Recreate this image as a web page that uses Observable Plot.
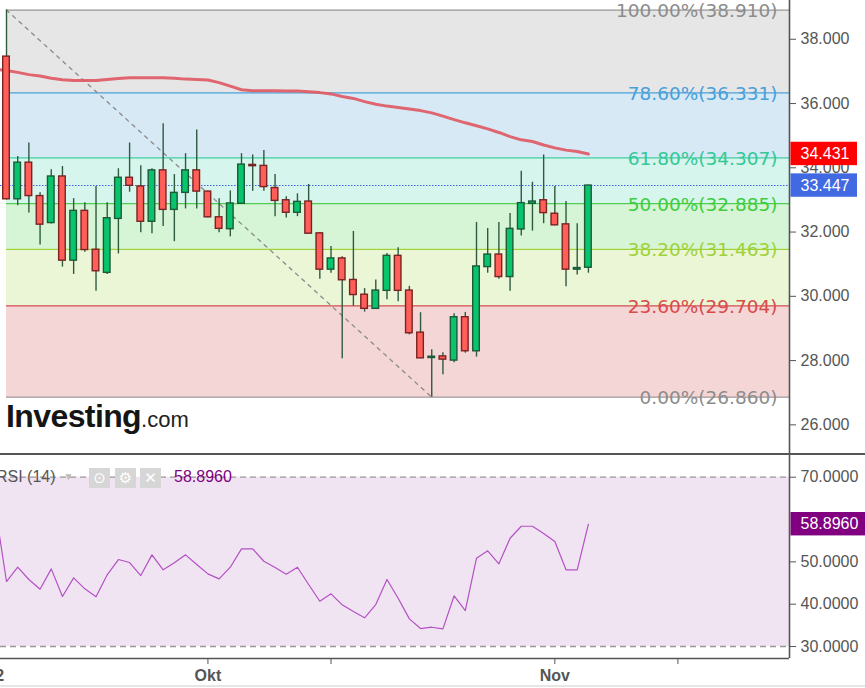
<!DOCTYPE html>
<html>
<head>
<meta charset="utf-8">
<script src="https://cdn.jsdelivr.net/npm/d3@7"></script>
<script src="https://cdn.jsdelivr.net/npm/@observablehq/plot@0.6"></script>
<style>
  body { margin: 0; background: #fff; }
  #wrap { position: relative; width: 865px; height: 688px; overflow: hidden; font-family: "Liberation Sans", Arial, sans-serif; }
  #sep { height: 2px; background: #555; }
  #logo { position: absolute; left: 6px; top: 396px; line-height: 40px; color: #151515; white-space: nowrap; }
  #logo .a { font-weight: bold; font-size: 32px; letter-spacing: -0.6px; }
  #logo .b { font-size: 22px; color: #222; }
  #rsihead { position: absolute; left: -4px; top: 467px; line-height: 20px; font-size: 16px; color: #555; white-space: nowrap; }
  #rsihead .tri { display: inline-block; font-size: 10px; color: #bbb; margin-left: 8px; vertical-align: top; }
  #rsihead .ic { position: absolute; top: 1px; width: 21px; height: 20px; background: #d6d6d6; color: #fff; font-size: 15px; line-height: 20px; text-align: center; font-family: "DejaVu Sans", sans-serif; }
  #rsihead .val { position: absolute; left: 178px; top: 0; color: #800080; }
  #bottomline { position: absolute; left: 0; top: 685px; width: 865px; height: 2px; background: #e6e6e6; }
  svg.plot, svg { overflow: hidden; }
</style>
</head>
<body>
<div id="wrap">
  <div id="main"></div>
  <div id="sep"></div>
  <div id="rsi"></div>
  <div id="logo"><span class="a">Investing</span><span class="b">.com</span></div>
  <div id="rsihead">RSI (14)<span class="tri">▼</span>
    <span class="ic" style="left:93px">⊙</span>
    <span class="ic" style="left:119px">⚙</span>
    <span class="ic" style="left:144px">✕</span>
    <span class="val" id="rsival"></span>
  </div>
  <div id="bottomline"></div>
</div>
<script>
// ---- Data ----
// daily dates: first one (Sep 12) is just left of the visible area
const days = d3.utcDay.range(new Date(Date.UTC(2019, 8, 12)), new Date(Date.UTC(2019, 10, 5)));

const open = [37.46, 33.02, 34.16, 33.12, 32.28, 33.73, 31.11, 32.66, 31.45, 30.73,
  32.41, 33.69, 33.42, 32.32, 33.92, 32.69, 33.22, 33.92, 33.26, 32.46,
  32.09, 32.88, 34.09, 34.06, 33.37, 32.99, 32.60, 32.95, 31.96, 30.83,
  31.18, 30.51, 30.05, 29.61, 30.17, 31.26, 30.18, 28.87, 28.08, 28.13,
  28.00, 29.35, 28.29, 30.91, 31.30, 30.60, 32.08, 32.88, 32.99, 32.57,
  32.24, 30.83, 30.89];
const close = [33.02, 34.16, 33.12, 32.23, 33.73, 31.11, 32.66, 31.44, 30.78, 32.43,
  33.69, 33.44, 32.32, 33.92, 32.69, 33.22, 33.92, 33.26, 32.46, 32.10,
  32.89, 34.10, 34.05, 33.40, 32.97, 32.60, 32.94, 31.95, 30.83, 31.18,
  30.50, 30.04, 29.61, 30.18, 31.26, 30.17, 28.85, 28.07, 28.12, 28.03,
  29.35, 28.29, 30.93, 31.30, 30.60, 32.10, 32.90, 32.95, 32.59, 32.21,
  30.83, 30.88, 33.447];
const high = [38.91, 34.35, 34.77, 33.22, 33.94, 34.04, 33.04, 32.91, 33.42, 32.91,
  33.97, 34.77, 34.06, 33.97, 35.37, 33.79, 34.44, 35.18, 33.27, 33.04,
  33.28, 34.44, 34.40, 34.54, 33.79, 33.10, 33.19, 33.48, 31.98, 31.55,
  31.23, 32.02, 30.24, 30.51, 31.33, 31.51, 30.31, 29.49, 28.34, 28.24,
  29.46, 29.50, 32.30, 32.11, 32.30, 32.58, 33.89, 33.55, 34.40, 33.42,
  32.95, 32.26, 33.46];
const low = [33.00, 32.82, 32.59, 31.60, 32.25, 30.91, 30.68, 31.37, 30.16, 30.68,
  31.32, 33.24, 31.98, 31.95, 32.17, 31.70, 32.72, 32.72, 32.44, 31.98,
  31.85, 32.86, 33.27, 33.27, 32.48, 32.44, 32.48, 31.93, 30.53, 30.72,
  28.06, 29.69, 29.51, 29.60, 29.89, 29.83, 28.80, 28.06, 26.86, 27.56,
  27.93, 28.23, 28.11, 30.72, 30.53, 30.16, 31.88, 32.03, 32.26, 32.20,
  30.30, 30.66, 30.72];
// moving average (starts on Sep 12)
const ma = [37.07, 37.03, 36.97, 36.90, 36.86, 36.79, 36.74, 36.72, 36.72, 36.72,
  36.75, 36.78, 36.80, 36.80, 36.80, 36.80, 36.79, 36.76, 36.75, 36.73,
  36.65, 36.54, 36.43, 36.40, 36.40, 36.40, 36.39, 36.39, 36.37, 36.34,
  36.30, 36.22, 36.16, 36.06, 35.98, 35.92, 35.88, 35.83, 35.78, 35.71,
  35.61, 35.50, 35.40, 35.31, 35.21, 35.10, 34.97, 34.87, 34.82, 34.71,
  34.62, 34.55, 34.51, 34.431];
// RSI (14) (starts on Sep 12)
const rsi = [62.6, 45.36, 48.74, 45.83, 43.54, 48.35, 41.81, 46.23, 43.63, 41.74,
  46.94, 50.55, 49.84, 46.77, 51.66, 48.12, 49.77, 51.66, 49.37, 47.17,
  45.99, 48.74, 53.08, 53.08, 50.15, 48.66, 47.08, 48.74, 44.65, 40.70,
  42.45, 39.85, 38.27, 36.78, 39.92, 45.83, 41.41, 36.54, 34.25, 34.56,
  34.18, 41.98, 38.50, 50.86, 52.61, 49.54, 55.58, 58.42, 58.42, 56.70,
  54.81, 48.12, 48.12, 58.896];

// Fibonacci retracement
const fibPct = [100, 78.6, 61.8, 50, 38.2, 23.6, 0];
const fibVal = [38.910, 36.331, 34.307, 32.885, 31.463, 29.704, 26.860];
const fibLine = ["#9a9a9a", "#4a9fd8", "#3fcca0", "#50cc50", "#9fd23a", "#d05050", "#a08f8f"];
const fibText = ["#8c8c8c", "#4a9fd8", "#33c898", "#3fcc3f", "#9fd23a", "#d94a4a", "#8c8c8c"];
const fibFill = ["#e6e6e6", "#d6e9f5", "#d6f5ec", "#d6f5d6", "#ebf6d6", "#f5d6d6"];

const priceTicks = [26, 28, 30, 32, 34, 36, 38];
const rsiTicks = [30, 40, 50, 70];
const rsiBand = [30, 70];
const xTickDates = [new Date(Date.UTC(2019, 8, 12)), new Date(Date.UTC(2019, 9, 1)), new Date(Date.UTC(2019, 9, 12)), new Date(Date.UTC(2019, 10, 1)), new Date(Date.UTC(2019, 10, 12))];
const xTickLabels = ["12", "Okt", "", "Nov", ""];

// ---- Derived tables ----
const DAY = 864e5;
const candles = open.map((o, i) => ({date: days[i + 1], open: o, close: close[i], high: high[i], low: low[i]}));
const fib = fibPct.map((p, i) => ({pct: p, val: fibVal[i], line: fibLine[i], text: fibText[i]}));
const bands = fibFill.map((f, i) => ({hi: fibVal[i], lo: fibVal[i + 1], fill: f}));
const maData = days.map((d, i) => ({date: d, v: ma[i]}));
const rsiData = days.map((d, i) => ({date: d, v: rsi[i]}));
const hiIdx = d3.maxIndex(high), loIdx = d3.minIndex(low);
const diag = [{date: candles[hiIdx].date, v: high[hiIdx]}, {date: candles[loIdx].date, v: low[loIdx]}];
const lastClose = close[close.length - 1];
const lastMa = ma[ma.length - 1];
const lastRsi = rsi[rsi.length - 1];
const tickLab = new Map(xTickDates.map((d, i) => [+d, xTickLabels[i]]));

const first = +candles[0].date;
const xDomain = [new Date(first - 0.536 * DAY), new Date(first + 69.97 * DAY)];
const xEnd = () => xDomain[1];
const mainY = [25.108, 39.207];
const rsiY = [27.17, 75.13];
const font = "Liberation Sans, Arial, sans-serif";
const isUp = d => d.close >= d.open;

const mainChart = Plot.plot({
  width: 865, height: 453,
  marginLeft: 0, marginRight: 76, marginTop: 0, marginBottom: 0,
  style: {fontFamily: font, overflow: "hidden", background: "white"},
  x: {type: "utc", domain: xDomain, axis: null},
  y: {domain: mainY, axis: null},
  color: {type: "identity"},
  marks: [
    Plot.rect(bands, {x1: () => candles[0].date, x2: xEnd, y1: "lo", y2: "hi", fill: "fill"}),
    Plot.ruleY(fib, {y: "val", x1: () => candles[0].date, x2: xEnd, stroke: "line", strokeWidth: 1.2}),
    Plot.line(diag, {x: "date", y: "v", stroke: "#8a8a8a", strokeWidth: 1.3, strokeDasharray: "3.5,5"}),
    Plot.ruleY([lastClose], {stroke: "#3d63e8", strokeWidth: 1.1, strokeDasharray: "1.5,1.5"}),
    Plot.line(maData, {x: "date", y: "v", stroke: "#e05a64", strokeWidth: 3, strokeOpacity: 0.92}),
    Plot.ruleX(candles, {x: "date", y1: "low", y2: "high", stroke: "#2e5a40", strokeWidth: 1.4}),
    Plot.rect(candles, {x1: "date", x2: "date", y1: "open", y2: "close",
      insetLeft: -3.3, insetRight: -3.3,
      fill: d => isUp(d) ? "#08c46c" : "#ff5f58",
      stroke: d => isUp(d) ? "#1d5a38" : "#7a2323", strokeWidth: 1.4}),
    Plot.text(fib, {x: xEnd, y: "val", text: d => `${d.pct.toFixed(2)}%(${d.val.toFixed(3)})`,
      textAnchor: "end", lineAnchor: "middle", dx: -12, dy: 1, fill: "text",
      fontSize: 18.5, fontFamily: "DejaVu Sans, sans-serif"}),
    Plot.ruleX([xDomain[1]], {stroke: "#555", strokeWidth: 1.6}),
    Plot.axisY(priceTicks, {anchor: "right", tickFormat: d3.format(".3f"), tickSize: 6, tickPadding: 5,
      fontSize: 16, color: "#555", label: null}),
    Plot.rect([{v: lastMa, fill: "#ff0000"}, {v: lastClose, fill: "#4169e1"}],
      {x1: xEnd, x2: xEnd, y1: "v", y2: "v", insetLeft: 1.5, insetRight: -68, insetTop: -11.7, insetBottom: -11.7, fill: "fill"}),
    Plot.text([lastMa, lastClose], {x: xEnd, y: d => d, text: d => d.toFixed(3), dx: 11, textAnchor: "start",
      fill: "white", fontSize: 16})
  ]
});
document.getElementById("main").appendChild(mainChart);

const rsiChart = Plot.plot({
  width: 865, height: 233,
  marginLeft: 0, marginRight: 76, marginTop: 0, marginBottom: 30,
  style: {fontFamily: font, overflow: "hidden", background: "white"},
  x: {type: "utc", domain: xDomain, axis: null},
  y: {domain: rsiY, axis: null},
  marks: [
    Plot.rect([rsiBand], {y1: d => d[0], y2: d => d[1], fill: "#f1e4f2"}),
    Plot.ruleY(rsiBand, {stroke: "#999", strokeWidth: 1.3, strokeDasharray: "6,4"}),
    Plot.line(rsiData, {x: "date", y: "v", stroke: "#b351c4", strokeWidth: 1.2}),
    Plot.ruleX([xDomain[1]], {stroke: "#555", strokeWidth: 1.6}),
    Plot.ruleY([rsiY[0]], {stroke: "#555", strokeWidth: 1.6}),
    Plot.axisY(rsiTicks, {anchor: "right", tickFormat: d3.format(".4f"), tickSize: 6, tickPadding: 5,
      fontSize: 16, color: "#555", label: null}),
    Plot.rect([lastRsi], {x1: xEnd, x2: xEnd, y1: d => d, y2: d => d, insetLeft: 1.5, insetRight: -76,
      insetTop: -11.7, insetBottom: -11.7, fill: "#800080"}),
    Plot.text([lastRsi], {x: xEnd, y: d => d, text: d => d.toFixed(4), dx: 11, textAnchor: "start",
      fill: "white", fontSize: 16}),
    Plot.axisX(xTickDates, {anchor: "bottom", tickFormat: d => tickLab.get(+d), tickSize: 6, tickPadding: 5,
      fontSize: 16, fontWeight: "bold", color: "#555", label: null})
  ]
});
document.getElementById("rsi").appendChild(rsiChart);
document.getElementById("rsival").textContent = lastRsi.toFixed(4);
</script>
</body>
</html>
